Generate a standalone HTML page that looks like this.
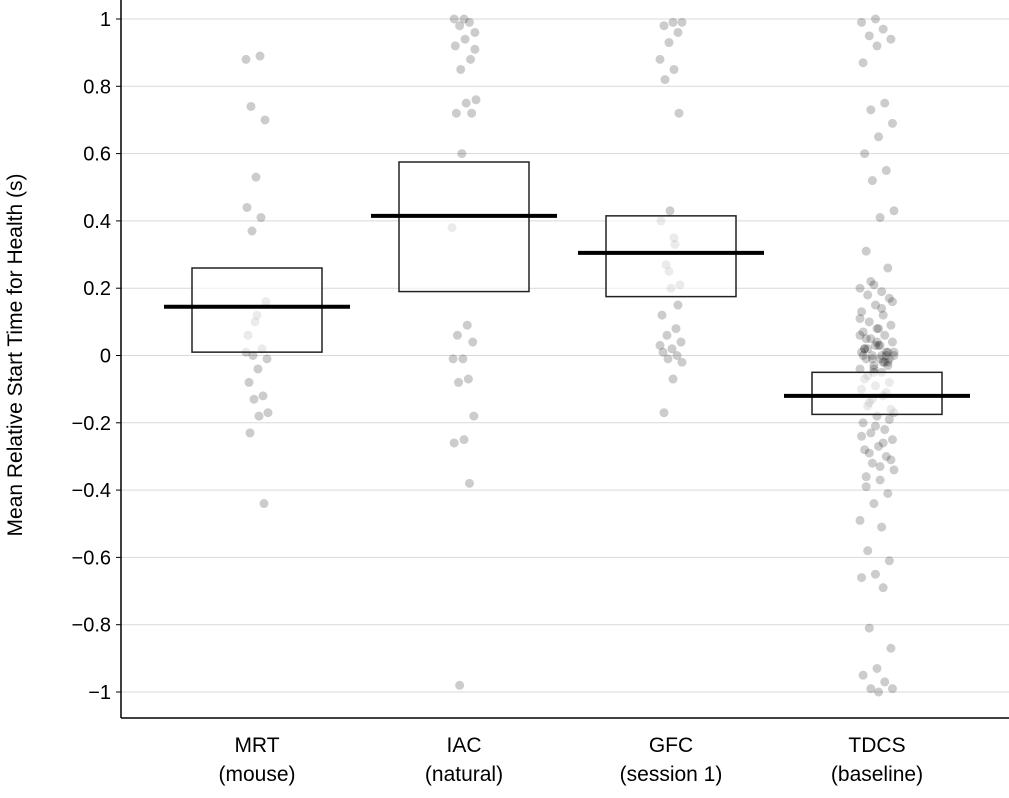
<!DOCTYPE html>
<html><head><meta charset="utf-8"><style>
body{margin:0;background:#fff;font-family:"Liberation Sans",sans-serif}
</style></head><body>
<svg id="c" width="1009" height="793" xmlns="http://www.w3.org/2000/svg"></svg>
<script>
const categories=["MRT","IAC","GFC","TDCS"];
const subLabels=["(mouse)","(natural)","(session 1)","(baseline)"];
const yTicks=[1,0.8,0.6,0.4,0.2,0,-0.2,-0.4,-0.6,-0.8,-1];
const means=[0.145,0.415,0.305,-0.12];
const boxTop=[0.26,0.575,0.415,-0.05];
const boxBottom=[0.01,0.19,0.175,-0.175];
const ptsMRT=[0.88,0.89,0.74,0.70,0.53,0.44,0.41,0.37,0.16,0.12,0.06,0.02,0.0,-0.01,-0.04,-0.08,-0.12,-0.13,-0.17,-0.18,-0.23,-0.44,0.10,0.01];
const ptsIAC=[1,1,0.99,0.98,0.96,0.94,0.92,0.88,0.85,0.76,0.75,0.72,0.72,0.6,0.38,0.09,0.06,0.04,-0.01,-0.01,-0.07,-0.08,-0.18,-0.25,-0.26,-0.38,-0.98,0.91];
const ptsGFC=[0.99,0.99,0.98,0.96,0.93,0.88,0.85,0.82,0.72,0.43,0.40,0.33,0.27,0.21,0.20,0.12,0.08,0.06,0.04,0.02,0.01,0.0,-0.01,-0.02,-0.07,-0.17,0.15,0.25,0.03,0.35];
const ptsTDCS=[1,0.99,0.97,0.95,0.94,0.92,0.87,0.75,0.73,0.69,0.65,0.6,0.55,0.52,0.43,0.41,0.31,0.26,0.21,0.2,0.19,0.18,0.17,0.15,0.13,0.12,0.1,0.09,0.08,0.07,0.06,0.05,0.04,0.03,0.02,0.01,0.0,0.0,-0.01,-0.01,-0.02,-0.03,-0.04,-0.05,-0.06,-0.08,-0.09,-0.1,-0.12,-0.14,-0.16,-0.18,-0.2,-0.22,-0.23,-0.25,-0.27,-0.28,-0.3,-0.32,-0.34,-0.37,-0.39,-0.41,-0.44,-0.49,-0.51,-0.58,-0.61,-0.65,-0.66,-0.69,-0.81,-0.87,-0.93,-0.95,-0.97,-0.99,-0.99,-1.0,0.02,0.0,-0.01,0.01,0.03,0.05,-0.03,-0.05,0.11,0.14,-0.15,-0.19,-0.21,-0.24,-0.26,-0.29,-0.31,0.04,0.0,-0.02,0.22,0.16,0.08,-0.07,-0.11,-0.13,-0.17,-0.33,-0.36,0.01,-0.04,0.06,0.0,0.02,-0.01,0.03,0.01,-0.02];
const points=[ptsMRT,ptsIAC,ptsGFC,ptsTDCS];
// layout
const catX=[257,464,671,877], ptSpread=[22,24,22,34];
const boxHalf=65, lineHalf=93;
const y=v=>355.5-v*336.5;
const svg=document.getElementById('c'),NS="http://www.w3.org/2000/svg";
function mk(t,a,p){const e=document.createElementNS(NS,t);for(const k in a)e.setAttribute(k,a[k]);(p||svg).appendChild(e);return e;}
yTicks.forEach(t=>{
 const g=mk('line',{x1:121,x2:1009,y1:y(t),y2:y(t),stroke:'#d9d9d9','stroke-width':1});
 
 
 mk('line',{x1:116,x2:121,y1:y(t),y2:y(t),stroke:'#000'});
 const tx=mk('text',{x:111,y:y(t)+7,'text-anchor':'end','font-size':20,fill:'#000'});
 tx.textContent=(t<0?'\u2212'+Math.abs(t):String(t));
 
 
});
points.forEach((arr,ci)=>{arr.forEach((v,i)=>{
 const j=(((i*37+ci*11)%23)/22-0.5)*ptSpread[ci];
 const c=mk('circle',{cx:catX[ci]+j,cy:y(v),r:4.5,fill:'rgba(0,0,0,0.2)'});
 
 
});});
categories.forEach((c,i)=>{
 const b=mk('rect',{x:catX[i]-boxHalf,y:y(boxTop[i]),width:boxHalf*2,height:y(boxBottom[i])-y(boxTop[i]),fill:'rgba(255,255,255,0.6)',stroke:'#222','stroke-width':1.5});
 
 
 const m=mk('line',{x1:catX[i]-lineHalf,x2:catX[i]+lineHalf,y1:y(means[i]),y2:y(means[i]),stroke:'#000','stroke-width':4});
 
 
 const t1=mk('text',{x:catX[i],y:752,'text-anchor':'middle','font-size':21});t1.textContent=c;
 
 
 const t2=mk('text',{x:catX[i],y:781,'text-anchor':'middle','font-size':21});t2.textContent=subLabels[i];
 
 
});
const ax=mk('line',{x1:121,x2:121,y1:0,y2:718,stroke:'#000','stroke-width':1.5});


const bx=mk('line',{x1:121,x2:1009,y1:718,y2:718,stroke:'#000','stroke-width':1.5});


const yt=mk('text',{x:0,y:0,transform:'translate(22,355) rotate(-90)','text-anchor':'middle','font-size':21});
yt.textContent='Mean Relative Start Time for Health (s)';


</script>
</body></html>
